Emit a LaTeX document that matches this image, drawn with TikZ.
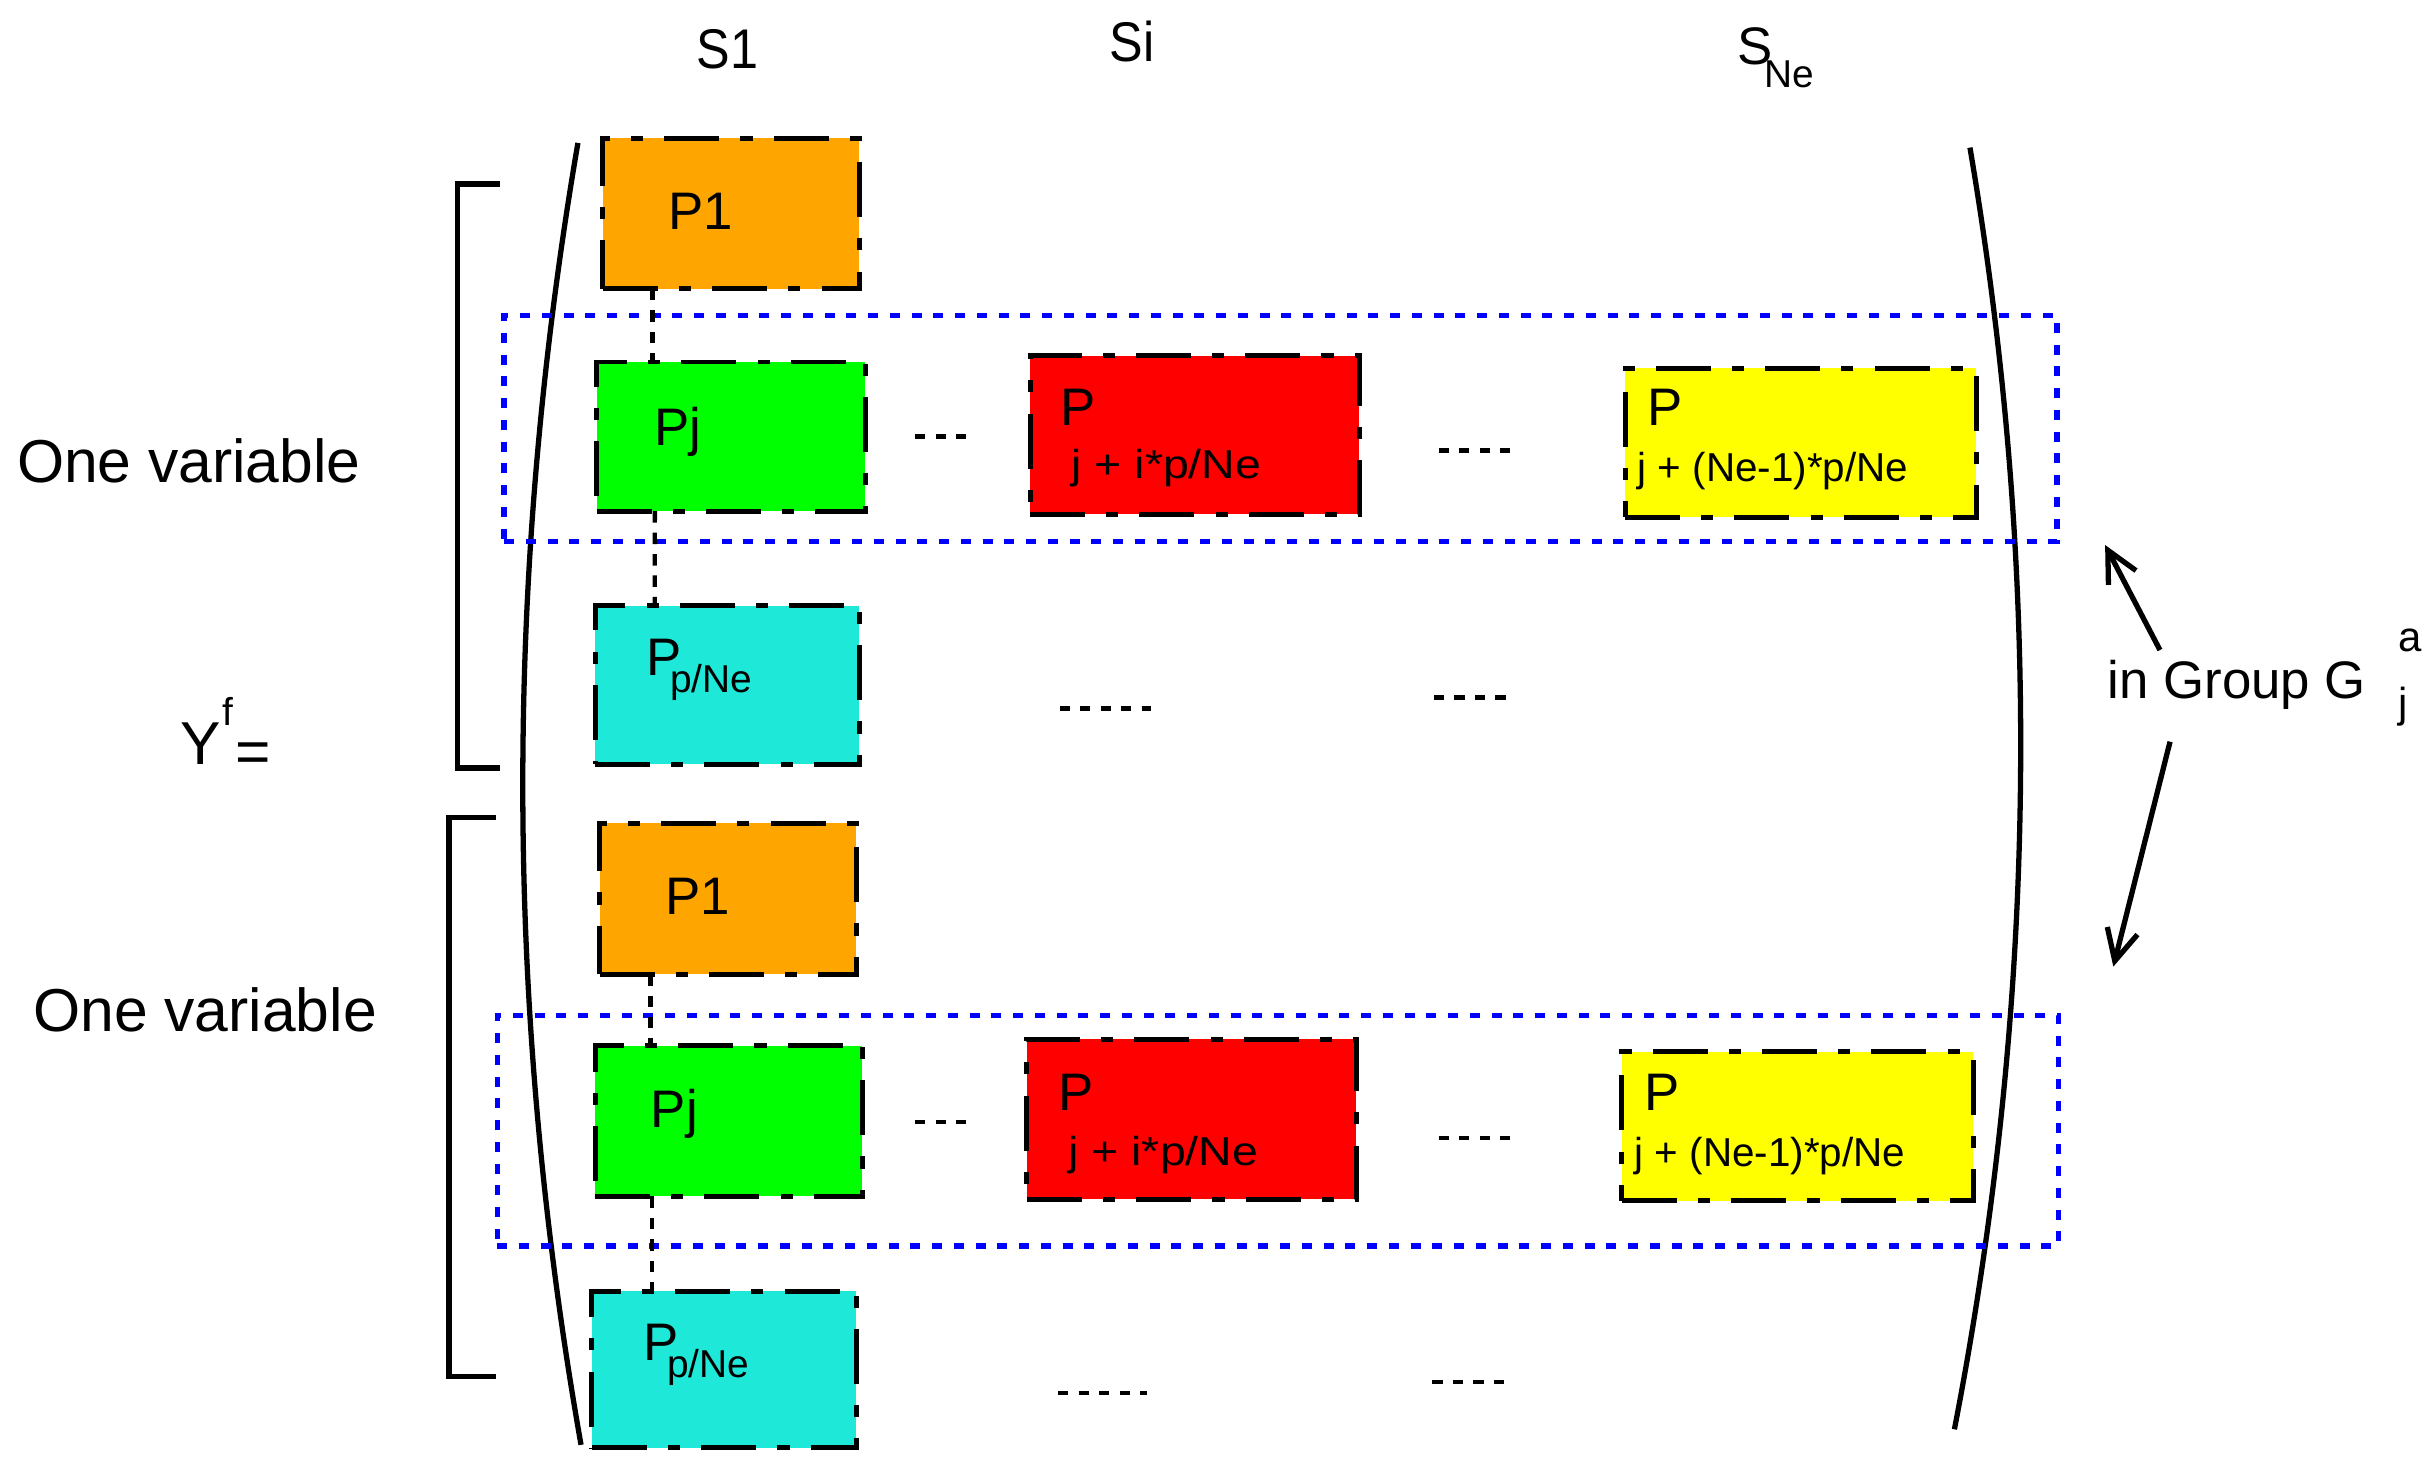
\documentclass[tikz,border=0pt]{standalone}
\usepackage{fontspec}
\setmainfont{Liberation Sans}
\usepackage{graphicx}
\usetikzlibrary{arrows.meta}
\definecolor{boxorange}{RGB}{255,165,0}
\definecolor{boxgreen}{RGB}{0,255,0}
\definecolor{boxcyan}{RGB}{30,232,216}
\definecolor{boxred}{RGB}{255,0,0}
\definecolor{boxyellow}{RGB}{255,255,0}
\definecolor{grpblue}{RGB}{0,0,255}
\newcommand{\myfs}[1]{\fontsize{#1}{#1}\selectfont}
\begin{document}
\begin{tikzpicture}[x=0.5pt,y=-0.5pt,
  cell/.style={rectangle, draw=black, line width=1.6pt, dash pattern=on 17.7pt off 6.8pt on 3.9pt off 6.8pt, inner sep=0pt, outer sep=0pt},
  grp/.style={rectangle, draw=grpblue, line width=1.7pt, dash pattern=on 3.2pt off 3.8pt, inner sep=0pt, outer sep=0pt},
  lbl/.style={anchor=base west, inner sep=0pt, outer sep=0pt},
  conn/.style={line width=1.4pt, dash pattern=on 3.7pt off 3.2pt},
  ell/.style={line width=1.4pt, dash pattern=on 3.3pt off 3.3pt},
  paren/.style={line width=1.7pt},
  brk/.style={line width=1.7pt},
  arr/.style={line width=1.7pt, -{Straight Barb[length=10pt,width=10pt]}}]
\useasboundingbox (0,0) rectangle (1568,948);

% column headers
\node[lbl] (hS1) at (448.5,44.4) {\myfs{18pt}\scalebox{0.9}[1]{S1}};
\node[lbl] (hSi) at (714.3,39.7) {\myfs{18pt}\scalebox{0.9}[1]{Si}};
\node[lbl] (hSNe) at (1118.5,41.8) {\myfs{17pt}S};
\node[lbl] (hSNeSub) at (1136,56.6) {\myfs{12.5pt}Ne};

% big parentheses
\draw[paren] (372,92) .. controls (324,371.3) and (324.7,650.7) .. (374,930);
\draw[paren] (1268,95) .. controls (1314.7,369.7) and (1311.3,644.7) .. (1258,920);

% brackets
\draw[brk] (321.8,118.4) -- (294.7,118.4) -- (294.7,494.3) -- (321.8,494.3);
\draw[brk] (319,526) -- (289,526) -- (289,886) -- (319,886);

% left labels
\node[lbl] (ov1) at (11,310.7) {\myfs{19.5pt}One variable};
\node[lbl] (ov2) at (21.5,663.7) {\myfs{19.5pt}One variable};
\node[lbl] (yY) at (116,492.4) {\myfs{19.5pt}Y};
\node[lbl] (yF) at (143,466.7) {\myfs{12.5pt}f};
\node[lbl] (yEq) at (151.3,497) {\myfs{19.5pt}=};

% upper block of cells
\node[cell, fill=boxorange, minimum width=82.5pt, minimum height=48.5pt] (p1a) at (470.5,137.5) {};
\node[cell, fill=boxgreen, minimum width=86.5pt, minimum height=48pt] (pja) at (470.5,281) {};
\node[cell, fill=boxcyan, minimum width=85pt, minimum height=51pt] (ppa) at (468,441) {};
\node[cell, fill=boxred, minimum width=106pt, minimum height=51pt] (ra) at (769,280) {};
\node[cell, fill=boxyellow, minimum width=113pt, minimum height=48pt] (ya) at (1159,285) {};

% lower block of cells
\node[cell, fill=boxorange, minimum width=82.5pt, minimum height=48.5pt] (p1b) at (468.5,578.5) {};
\node[cell, fill=boxgreen, minimum width=86pt, minimum height=48.5pt] (pjb) at (469,721.5) {};
\node[cell, fill=boxcyan, minimum width=85pt, minimum height=50.5pt] (ppb) at (466,881.5) {};
\node[cell, fill=boxred, minimum width=106pt, minimum height=51.5pt] (rb) at (767,720.5) {};
\node[cell, fill=boxyellow, minimum width=113pt, minimum height=48pt] (yb) at (1157,725) {};

% cell labels upper
\node[lbl] (tp1a) at (430,148) {\myfs{17pt}P1};
\node[lbl] (tpja) at (421.2,286.5) {\myfs{17pt}Pj};
\node[lbl] (tppa) at (416,435.1) {\myfs{17pt}P};
\node[lbl] (tppas) at (431.5,445.9) {\myfs{12.5pt}p/Ne};
\node[lbl] (tra) at (682.6,274) {\myfs{17pt}P};
\node[lbl] (tras) at (689.7,307.7) {\myfs{13pt}\scalebox{1.15}[1]{j + i*p/Ne}};
\node[lbl] (tya) at (1060.6,274) {\myfs{17pt}P};
\node[lbl] (tyas) at (1054.2,309.8) {\myfs{13pt}j + (Ne-1)*p/Ne};

% cell labels lower
\node[lbl] (tp1b) at (428.2,588.5) {\myfs{17pt}P1};
\node[lbl] (tpjb) at (419,726) {\myfs{17pt}Pj};
\node[lbl] (tppb) at (414.4,876) {\myfs{17pt}P};
\node[lbl] (tppbs) at (429.5,886.9) {\myfs{12.5pt}p/Ne};
\node[lbl] (trb) at (681.2,715) {\myfs{17pt}P};
\node[lbl] (trbs) at (687.7,750) {\myfs{13pt}\scalebox{1.15}[1]{j + i*p/Ne}};
\node[lbl] (tyb) at (1058.6,715) {\myfs{17pt}P};
\node[lbl] (tybs) at (1052.2,750.8) {\myfs{13pt}j + (Ne-1)*p/Ne};

% group boxes
\node[grp, minimum width=499.75pt, minimum height=72.85pt] (rowA) at (824.25,275.85) {};
\node[grp, minimum width=502.5pt, minimum height=74.25pt] (rowB) at (822.5,727.75) {};

% dotted vertical connectors in column S1
\draw[conn] ([xshift=-25.25pt]p1a.south) -- ([xshift=-25.25pt]pja.north);
\draw[conn] ([xshift=-24.5pt]pja.south) -- ([xshift=-23.3pt]ppa.north);
\draw[conn] ([xshift=-24.85pt]p1b.south) -- ([xshift=-25.1pt]pjb.north);
\draw[conn] ([xshift=-24.75pt]pjb.south) -- ([xshift=-23.25pt]ppb.north);

% ellipsis dashes
\draw[ell] (589,281) -- (622,281);
\draw[ell] (926,290) -- (975,290);
\draw[ell] (682,456) -- (741,456);
\draw[ell] (923,449) -- (970,449);
\draw[ell] (589,722) -- (622,722);
\draw[ell] (926,732.5) -- (973,732.5);
\draw[ell] (681,896.6) -- (738,896.6);
\draw[ell] (922,889.6) -- (970,889.6);

% group label and arrows
\node[lbl] (grpLabel) at (1356.7,449.3) {\myfs{17pt}in Group G};
\node[lbl] (grpSup) at (1544,419.5) {\myfs{13.5pt}a};
\node[lbl] (grpSub) at (1544,462) {\myfs{13.5pt}j};
\coordinate (aUs) at (1390.3,418.4);
\coordinate (aUe) at (1355,350.8);
\coordinate (aLs) at (1396.8,477.4);
\coordinate (aLe) at (1360.3,622.2);
\draw[arr] (aUs) -- (aUe);
\draw[arr] (aLs) -- (aLe);
\end{tikzpicture}
\end{document}
